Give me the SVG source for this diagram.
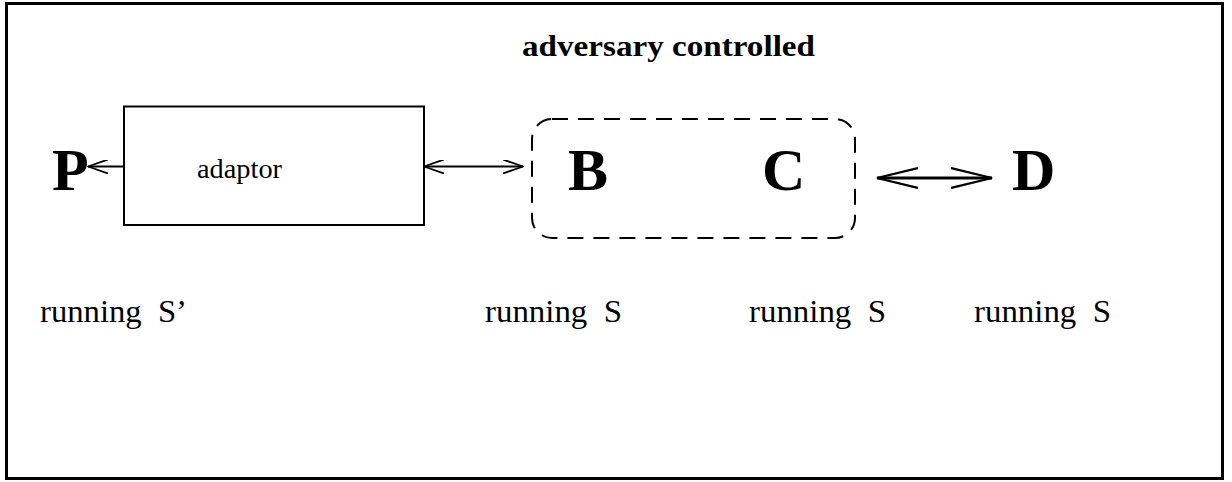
<svg xmlns="http://www.w3.org/2000/svg" width="1232" height="482" viewBox="0 0 1232 482">
<style>
.t{font-family:"Liberation Serif","Times New Roman",serif;fill:#000}
.big{font-size:60px;font-weight:bold}
.lab{font-size:31px}
.ln{stroke:#000;fill:none}
</style>
<defs>
<marker id="ha" viewBox="0 0 21 14" refX="20" refY="7" markerWidth="21" markerHeight="14" markerUnits="userSpaceOnUse" orient="auto-start-reverse">
<path d="M0,0 L20,7 L0,14" fill="none" stroke="#000" stroke-width="1.8"/>
</marker>
<marker id="hb" viewBox="0 0 42 22" refX="41" refY="11" markerWidth="42" markerHeight="22" markerUnits="userSpaceOnUse" orient="auto-start-reverse">
<path d="M0,1 L41,11 L0,21" fill="none" stroke="#000" stroke-width="2.2"/>
</marker>
</defs>
<rect x="6.5" y="3.5" width="1216" height="475" fill="#fff" stroke="#000" stroke-width="3"/>
<text class="t" x="522" y="56" font-size="30" font-weight="bold" textLength="293" lengthAdjust="spacingAndGlyphs">adversary controlled</text>
<g id="P"><text class="t big" x="52" y="190">P</text></g>
<g id="adaptor">
<rect x="124" y="106.5" width="300" height="118.5" fill="none" stroke="#000" stroke-width="2"/>
<text class="t" x="197" y="178" font-size="27" textLength="85" lengthAdjust="spacingAndGlyphs">adaptor</text>
</g>
<g id="adversary">
<rect x="532" y="119" width="323" height="119" rx="20" ry="20" fill="none" stroke="#000" stroke-width="2" stroke-dasharray="16 10"/>
</g>
<g id="B"><text class="t big" x="568" y="190">B</text></g>
<g id="C"><text class="t big" x="762" y="190">C</text></g>
<g id="D"><text class="t big" x="1012" y="190">D</text></g>
<g id="labels">
<text class="t lab" x="40" y="322" textLength="147" lengthAdjust="spacingAndGlyphs" xml:space="preserve">running  S’</text>
<text class="t lab" x="485" y="322" textLength="137" lengthAdjust="spacingAndGlyphs" xml:space="preserve">running  S</text>
<text class="t lab" x="749" y="322" textLength="137" lengthAdjust="spacingAndGlyphs" xml:space="preserve">running  S</text>
<text class="t lab" x="974" y="322" textLength="137" lengthAdjust="spacingAndGlyphs" xml:space="preserve">running  S</text>
</g>
<g id="connectors">
<line class="ln" x1="124" y1="166.5" x2="88" y2="166.5" stroke-width="2" marker-end="url(#ha)"/>
<line class="ln" x1="424" y1="166.5" x2="523" y2="166.5" stroke-width="2" marker-start="url(#ha)" marker-end="url(#ha)"/>
<line class="ln" x1="877" y1="178" x2="992" y2="178" stroke-width="3" marker-start="url(#hb)" marker-end="url(#hb)"/>
</g>
</svg>
